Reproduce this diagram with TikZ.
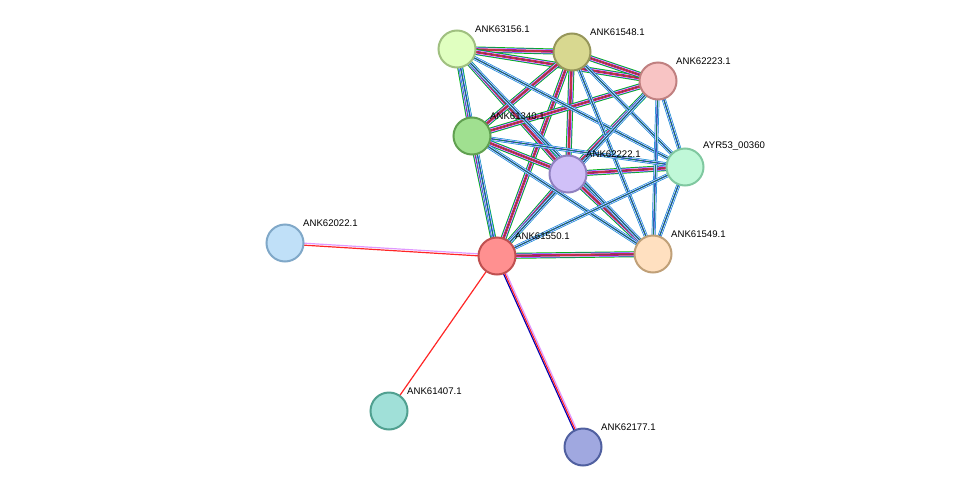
\documentclass[tikz,border=0pt]{standalone}
\usepackage{fontspec}
\setmainfont{Liberation Sans}
\begin{document}
\begin{tikzpicture}[x=1pt,y=-1pt,
  nd/.style={circle,minimum size=37pt,line width=2pt,inner sep=0pt},
  lb/.style={font=\fontsize{9.6}{10}\selectfont,anchor=south west,inner sep=1pt},
  bund/.style={line width=6pt,draw=green!75!black,
    postaction={draw=blue!75,line width=4.6pt},
    postaction={draw=white,line width=3.6pt},
    postaction={draw=magenta!70!blue,line width=2.6pt},
    postaction={draw=red!80,line width=1.4pt},
    postaction={draw=black!70,line width=0.5pt}},
  bund2/.style={line width=4pt,draw=cyan!70!blue,
    postaction={draw=white,line width=2.6pt},
    postaction={draw=blue!70,line width=1.6pt},
    postaction={draw=green!60!black,line width=0.5pt}}]
\useasboundingbox (0,0) rectangle (975,493);
\coordinate (a) at (457,49);
\coordinate (b) at (572,52);
\coordinate (c) at (658,81);
\coordinate (d) at (472,136);
\coordinate (e) at (568,174);
\coordinate (f) at (685,167);
\coordinate (g) at (497,256);
\coordinate (h) at (653,254);
\coordinate (i) at (285,243);
\coordinate (j) at (389,411);
\coordinate (k) at (583,447);
% edges
\foreach \p/\q in {a/b,a/c,b/c,d/g,e/g,b/g,d/e,b/e,c/e,e/f,e/h,g/h,a/e,c/d,b/d,a/d}
  \draw[bund] (\p) -- (\q);
\foreach \p/\q in {a/f,a/h,a/g,b/f,b/h,c/f,c/h,c/g,d/f,d/h,f/h,f/g}
  \draw[bund2] (\p) -- (\q);
\draw[red!85,line width=1.2pt,transform canvas={yshift=-1pt}] (g) -- (i);
\draw[blue!30!magenta!40,line width=1.2pt,transform canvas={yshift=1pt}] (g) -- (i);
\draw[red!85,line width=1.2pt] (g) -- (j);
\draw[blue!70!black,line width=1.2pt,transform canvas={xshift=-1.5pt}] (g) -- (k);
\draw[red!85,line width=1.2pt] (g) -- (k);
\draw[blue!30!magenta!40,line width=1.2pt,transform canvas={xshift=1.5pt}] (g) -- (k);
% nodes
\node[nd,fill={rgb,255:red,224;green,255;blue,192},draw={rgb,255:red,160;green,192;blue,128}] (na) at (a) {};
\node[nd,fill={rgb,255:red,216;green,216;blue,144},draw={rgb,255:red,150;green,150;blue,90}] (nb) at (b) {};
\node[nd,fill={rgb,255:red,248;green,196;blue,196},draw={rgb,255:red,192;green,128;blue,128}] (nc) at (c) {};
\node[nd,fill={rgb,255:red,160;green,224;blue,144},draw={rgb,255:red,96;green,160;blue,80}] (nd1) at (d) {};
\node[nd,fill={rgb,255:red,208;green,192;blue,248},draw={rgb,255:red,144;green,128;blue,192}] (ne) at (e) {};
\node[nd,fill={rgb,255:red,192;green,248;blue,216},draw={rgb,255:red,128;green,200;blue,160}] (nf) at (f) {};
\node[nd,fill={rgb,255:red,255;green,144;blue,144},draw={rgb,255:red,192;green,80;blue,80}] (ng) at (g) {};
\node[nd,fill={rgb,255:red,255;green,224;blue,192},draw={rgb,255:red,192;green,160;blue,120}] (nh) at (h) {};
\node[nd,fill={rgb,255:red,192;green,224;blue,248},draw={rgb,255:red,128;green,168;blue,200}] (ni) at (i) {};
\node[nd,fill={rgb,255:red,160;green,224;blue,216},draw={rgb,255:red,80;green,160;blue,144}] (nj) at (j) {};
\node[nd,fill={rgb,255:red,160;green,168;blue,224},draw={rgb,255:red,80;green,96;blue,160}] (nk) at (k) {};
% labels
\node[lb] (la) at (474,34) {ANK63156.1};
\node[lb] (lb1) at (589,37) {ANK61548.1};
\node[lb] (lc) at (675,66) {ANK62223.1};
\node[lb] (ld) at (489,121) {ANK61340.1};
\node[lb] (le) at (585,159) {ANK62222.1};
\node[lb] (lf) at (702,152) {AYR53\_00360};
\node[lb] (lg) at (514,241) {ANK61550.1};
\node[lb] (lh) at (670,239) {ANK61549.1};
\node[lb] (li) at (302,228) {ANK62022.1};
\node[lb] (lj) at (406,396) {ANK61407.1};
\node[lb] (lk) at (600,432) {ANK62177.1};
\end{tikzpicture}
\end{document}
